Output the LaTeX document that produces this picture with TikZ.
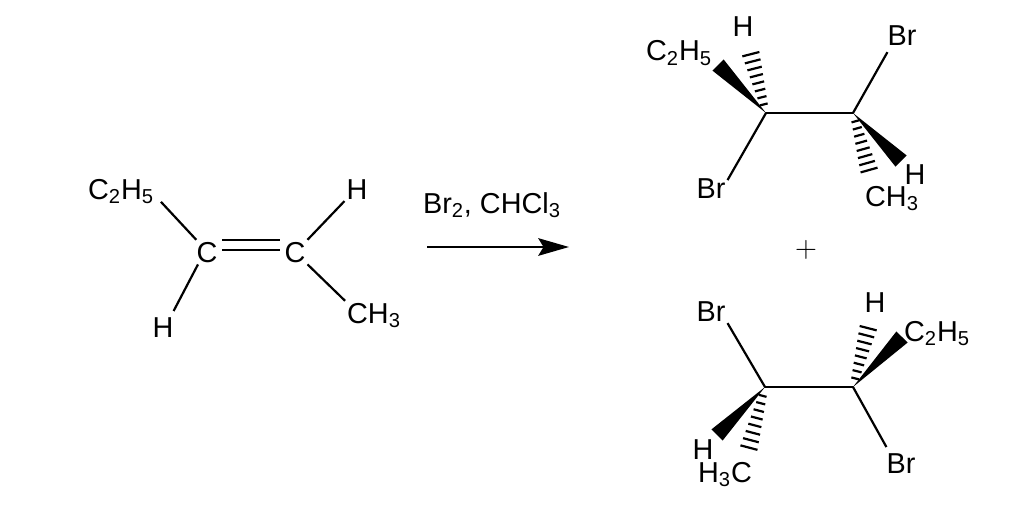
\documentclass[tikz,border=0pt]{standalone}
\usepackage{fontspec}
\setmainfont{Liberation Sans}
\usetikzlibrary{calc,arrows.meta}

\newcommand{\wedgebond}[2]{
  \fill ($(#2)!4.5pt!90:(#1)$) -- ($(#2)!4.5pt!-90:(#1)$) -- (#1) -- cycle;
}
\newcommand{\hashbond}[2]{
  \foreach \i in {1,...,9}{
    \pgfmathsetmacro{\t}{0.13+(\i-1)*0.87/8}
    \pgfmathsetmacro{\w}{1.8+3.6*\t}
    \coordinate (m) at ($(#1)!\t!(#2)$);
    \draw[hash] ($(m)!\w pt!90:(#2)$) -- ($(m)!\w pt!-90:(#2)$);
  }
}

\begin{document}
\begin{tikzpicture}[x=0.02cm,y=-0.02cm]
  \tikzset{ atom/.style={anchor=base,inner sep=1pt,font=\fontsize{16.4}{18}\selectfont},
    bond/.style={line width=1.25pt},
    hash/.style={line width=1.25pt},
  }
  \useasboundingbox (0,0) rectangle (1024,517);

  % alkene
  \node[atom] (c1) at (207,262) {C};
  \node[atom] (c2) at (295,262) {C};
  \node[atom] (ethyl) at (121,199) {C\textsubscript{2}H\textsubscript{5}};
  \node[atom] (hl) at (163,337) {H};
  \node[atom] (hr) at (357,199) {H};
  \node[atom] (methyl) at (374,323) {CH\textsubscript{3}};

  \draw[bond] ([xshift=1pt]c1.north west) -- ([shift={(2.8pt,2.3pt)}]ethyl.south east);
  \draw[bond] ([xshift=2pt]c1.south west) -- ([shift={(-1.1pt,2.3pt)}]hl.north east);
  \draw[bond] (c2.north east) -- (hr.south west);
  \draw[bond] (c2.south east) -- (methyl.north west);
  \draw[bond,shorten <=1.5pt,shorten >=1.5pt] ([yshift=7pt]c1.east) -- ([yshift=7pt]c2.west);
  \draw[bond,shorten <=1.5pt,shorten >=1.5pt] ([yshift=1.2pt]c1.east) -- ([yshift=1.2pt]c2.west);

  % reagent
  \node[atom] (reagent) at (492,213) {Br\textsubscript{2}, CHCl\textsubscript{3}};
  \coordinate (as) at (427,247);
  \coordinate (ae) at (569,247);
  \draw[bond,-{Stealth[length=17.5pt,width=10pt,inset=3pt]}] (as) -- (ae);

  % upper product
  \coordinate (ca) at (766,113);
  \coordinate (cb) at (853,113);
  \coordinate (wa) at (718,65);
  \coordinate (wb) at (901,161);
  \coordinate (ha) at (749,47);
  \coordinate (hb) at (871,177);
  \node[atom] (e1) at (679,61) {C\textsubscript{2}H\textsubscript{5}};
  \node[atom] (h1) at (743,37) {H};
  \node[atom] (br1) at (902,46) {Br};
  \node[atom] (br2) at (711,198) {Br};
  \node[atom] (h2) at (915,184) {H};
  \node[atom] (m1) at (892,206) {CH\textsubscript{3}};

  \draw[bond,line cap=round] (ca) -- (cb);
  \draw[bond] (ca) -- ([yshift=-2.3pt]br2.north east);
  \draw[bond] (cb) -- ([shift={(1.1pt,-2.3pt)}]br1.south west);
  \wedgebond{ca}{wa}
  \wedgebond{cb}{wb}
  \hashbond{ca}{ha}
  \hashbond{cb}{hb}

  \node[atom,anchor=center] (plus) at (806,250) {$+$};

  % lower product
  \coordinate (cc) at (765,387);
  \coordinate (cd) at (853,387);
  \coordinate (wc) at (717,435);
  \coordinate (wd) at (902,337);
  \coordinate (hc) at (747,455);
  \coordinate (hd) at (870,321);
  \node[atom] (br3) at (711,321) {Br};
  \node[atom] (h3) at (875,312) {H};
  \node[atom] (e2) at (937,341) {C\textsubscript{2}H\textsubscript{5}};
  \node[atom] (h4) at (703,459) {H};
  \node[atom] (m2) at (725,482) {H\textsubscript{3}C};
  \node[atom] (br4) at (901,473) {Br};

  \draw[bond,line cap=round] (cc) -- (cd);
  \draw[bond] (cc) -- (br3.south east);
  \draw[bond] (cd) -- ([shift={(1.1pt,2.3pt)}]br4.north west);
  \wedgebond{cc}{wc}
  \wedgebond{cd}{wd}
  \hashbond{cc}{hc}
  \hashbond{cd}{hd}
\end{tikzpicture}
\end{document}
